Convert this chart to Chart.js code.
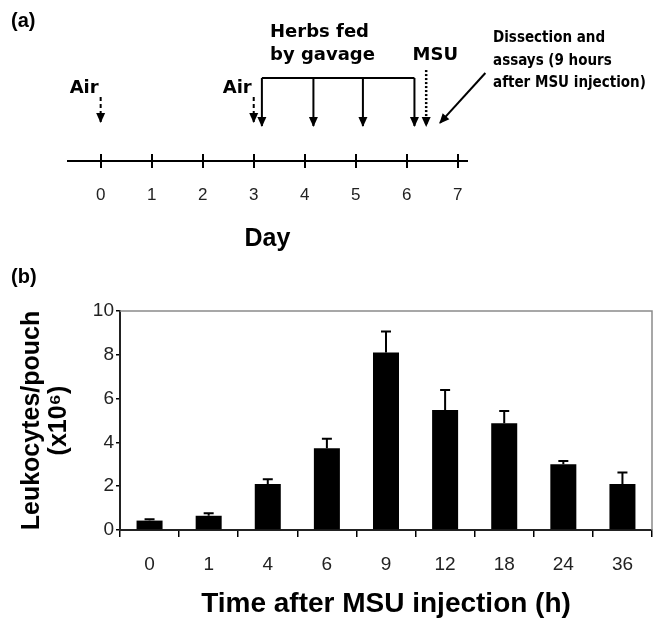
<!DOCTYPE html>
<html>
<head>
<meta charset="utf-8">
<script src="https://cdn.jsdelivr.net/npm/chart.js@4.4.1/dist/chart.umd.min.js"></script>
<style>
  body { margin: 0; background: #fff; width: 669px; height: 624px; position: relative; overflow: hidden; }
  .panel { position: absolute; left: 0; width: 669px; }
  .tag { position: absolute; left: 11px; font: bold 20px "Liberation Sans", Arial, sans-serif; color: #000; }
</style>
</head>
<body>
<div class="panel" style="top:0;height:260px"><canvas id="timeline"></canvas></div>
<div class="panel" style="top:260px;height:364px"><canvas id="leuko"></canvas></div>
<div class="tag" style="top:9px">(a)</div>
<div class="tag" style="top:265px">(b)</div>
<script>
// (a) timeline of the protocol, in days
const days = [0, 1, 2, 3, 4, 5, 6, 7];
const airDays = [0, 3];
const gavageDays = [3.16, 4.17, 5.14, 6.15];
const msuDay = 6.38;
const dissectionDay = 6.65;

// (b) leukocytes per pouch (x10^6) after MSU injection
const hours = ['0', '1', '4', '6', '9', '12', '18', '24', '36'];
const leukocytes = [0.43, 0.65, 2.1, 3.73, 8.1, 5.48, 4.87, 3.0, 2.1];
const leukocytesErr = [0.06, 0.11, 0.22, 0.44, 0.96, 0.91, 0.56, 0.15, 0.52];

Chart.defaults.font.family = '"Liberation Sans", Arial, sans-serif';
Chart.defaults.color = '#000';

const BOLD = '"DejaVu Sans", Verdana, sans-serif';

// arrow heads at the last point of datasets flagged with arrow:true
const arrowHeads = {
    id: 'arrowHeads',
    afterDatasetsDraw(chart) {
        const ctx = chart.ctx;
        chart.data.datasets.forEach((ds, i) => {
            if (!ds.arrow) return;
            const pts = chart.getDatasetMeta(i).data;
            const a = pts[pts.length - 2], b = pts[pts.length - 1];
            const ang = Math.atan2(b.y - a.y, b.x - a.x);
            ctx.save();
            ctx.translate(b.x, b.y);
            ctx.rotate(ang);
            ctx.beginPath();
            ctx.moveTo(1, 0);
            ctx.lineTo(-9, -4.5);
            ctx.lineTo(-9, 4.5);
            ctx.closePath();
            ctx.fillStyle = '#000';
            ctx.fill();
            ctx.restore();
        });
    }
};

// tick marks crossing the timeline
const crossTicks = {
    id: 'crossTicks',
    afterDraw(chart) {
        const x = chart.scales.x, y0 = chart.chartArea.bottom, ctx = chart.ctx;
        ctx.save();
        ctx.strokeStyle = '#000';
        ctx.lineWidth = 2;
        x.ticks.forEach(t => {
            const px = Math.round(x.getPixelForValue(t.value));
            ctx.beginPath();
            ctx.moveTo(px, y0 - 7);
            ctx.lineTo(px, y0 + 7);
            ctx.stroke();
        });
        ctx.restore();
    }
};

const timelineText = {
    id: 'timelineText',
    afterDraw(chart) {
        const {x, y} = chart.scales;
        const ctx = chart.ctx;
        ctx.save();
        ctx.fillStyle = '#000';
        ctx.textBaseline = 'middle';
        ctx.font = 'bold 18px ' + BOLD;
        ctx.textAlign = 'right';
        airDays.forEach(d => ctx.fillText('Air', x.getPixelForValue(d) - 2, y.getPixelForValue(5.18)));
        ctx.textAlign = 'left';
        ctx.fillText('Herbs fed', x.getPixelForValue(3.32), y.getPixelForValue(9.15));
        ctx.fillText('by gavage', x.getPixelForValue(3.32), y.getPixelForValue(7.52));
        ctx.textAlign = 'center';
        ctx.fillText('MSU', x.getPixelForValue(6.56), y.getPixelForValue(7.52));
        ctx.textAlign = 'left';
        ctx.font = 'bold 15px "DejaVu Sans Condensed", "DejaVu Sans", sans-serif';
        const lx = x.getPixelForValue(7.69);
        ctx.fillText('Dissection and', lx, y.getPixelForValue(8.72));
        ctx.fillText('assays (9 hours', lx, y.getPixelForValue(7.09));
        ctx.fillText('after MSU injection)', lx, y.getPixelForValue(5.53));
        ctx.restore();
    }
};

const seg = (pts, extra) => Object.assign({
    data: pts, showLine: true, pointRadius: 0, borderColor: '#000',
    borderWidth: 2, clip: false, fill: false, arrow: true
}, extra);

const timelineSets = [];
airDays.forEach(d => timelineSets.push(seg([{x: d, y: 4.54}, {x: d, y: 2.77}], {borderDash: [4, 3]})));
gavageDays.forEach(d => timelineSets.push(seg([{x: d, y: 5.89}, {x: d, y: 2.48}])));
timelineSets.push(seg([{x: gavageDays[0], y: 5.89}, {x: gavageDays[gavageDays.length - 1], y: 5.89}], {arrow: false}));
timelineSets.push(seg([{x: msuDay, y: 6.45}, {x: msuDay, y: 2.48}], {borderDash: [2, 2], borderWidth: 2.5}));
timelineSets.push(seg([{x: 7.54, y: 6.24}, {x: dissectionDay, y: 2.7}]));

new Chart(document.getElementById('timeline'), {
    type: 'scatter',
    data: { datasets: timelineSets },
    options: {
        responsive: true,
        maintainAspectRatio: false,
        animation: false,
        layout: { padding: { left: 68, right: 202, top: 20, bottom: 0 } },
        plugins: { legend: { display: false }, tooltip: { enabled: false } },
        scales: {
            x: {
                type: 'linear',
                min: -0.64,
                max: 7.18,
                afterBuildTicks: s => { s.ticks = days.map(v => ({ value: v })); },
                grid: { display: false, drawTicks: false },
                border: { display: true, color: '#000', width: 2 },
                ticks: { padding: 24, color: '#222', font: { size: 17 } },
                title: {
                    display: true, text: 'Day', color: '#000',
                    font: { size: 25, weight: 'bold', family: 'Liberation Sans' },
                    padding: { top: 0, bottom: 6 }
                },
                afterFit: s => { s.height = 99; }
            },
            y: { display: false, min: 0, max: 10 }
        }
    },
    plugins: [arrowHeads, crossTicks, timelineText]
});

// (b) bar chart
const errorBars = {
    id: 'errorBars',
    afterDatasetsDraw(chart) {
        const ctx = chart.ctx, y = chart.scales.y;
        const meta = chart.getDatasetMeta(0);
        ctx.save();
        ctx.strokeStyle = '#000';
        ctx.lineWidth = 2;
        meta.data.forEach((bar, i) => {
            const top = y.getPixelForValue(leukocytes[i] + leukocytesErr[i]);
            ctx.beginPath();
            ctx.moveTo(bar.x, bar.y);
            ctx.lineTo(bar.x, top);
            ctx.moveTo(bar.x - 5, top);
            ctx.lineTo(bar.x + 5, top);
            ctx.stroke();
        });
        ctx.restore();
    }
};

const frame = {
    id: 'frame',
    beforeDatasetsDraw(chart) {
        const {left, right, top, bottom} = chart.chartArea;
        const ctx = chart.ctx;
        ctx.save();
        ctx.strokeStyle = '#8a8a8a';
        ctx.lineWidth = 1.5;
        ctx.beginPath();
        ctx.moveTo(left, top);
        ctx.lineTo(right, top);
        ctx.lineTo(right, bottom);
        ctx.stroke();
        ctx.restore();
    }
};

new Chart(document.getElementById('leuko'), {
    type: 'bar',
    data: {
        labels: hours,
        datasets: [{
            data: leukocytes,
            backgroundColor: '#000',
            barPercentage: 0.44,
            categoryPercentage: 1
        }]
    },
    options: {
        responsive: true,
        maintainAspectRatio: false,
        animation: false,
        layout: { padding: { top: 51, right: 17, left: 0, bottom: 0 } },
        plugins: { legend: { display: false }, tooltip: { enabled: false } },
        scales: {
            x: {
                grid: { drawOnChartArea: false, tickLength: 7, color: '#000', lineWidth: 1.5, offset: true },
                border: { color: '#222', width: 2 },
                ticks: { padding: 16, color: '#222', font: { size: 19 } },
                title: {
                    display: true, text: 'Time after MSU injection (h)', color: '#000',
                    font: { size: 28, weight: 'bold' },
                    padding: { top: 0, bottom: 3 }
                },
                afterFit: s => { s.height = 94; }
            },
            y: {
                min: 0,
                max: 10,
                ticks: { stepSize: 2, padding: 2, color: '#222', font: { size: 19 } },
                grid: { drawOnChartArea: false, tickLength: 4, color: '#000', lineWidth: 1.5 },
                border: { color: '#222', width: 2 },
                title: {
                    display: true, text: ['Leukocytes/pouch', '(x10\u2076)'], color: '#000',
                    font: { size: 25, weight: 'bold', lineHeight: 1.08 },
                    padding: { top: 19, bottom: 0 }
                },
                afterFit: s => { s.width = 120; }
            }
        }
    },
    plugins: [frame, errorBars]
});
</script>
</body>
</html>
